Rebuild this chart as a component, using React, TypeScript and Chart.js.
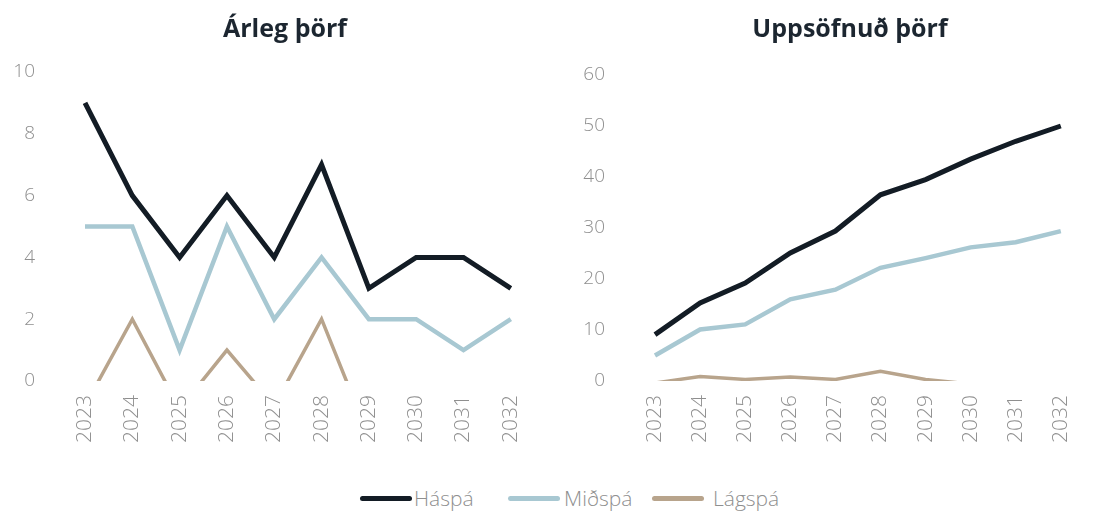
import React, { useEffect, useRef } from "react";
import { Chart, registerables } from "chart.js";

Chart.register(...registerables);

const years = ["2023", "2024", "2025", "2026", "2027", "2028", "2029", "2030", "2031", "2032"];

const annualHigh = [9, 6, 4, 6, 4, 7, 3, 4, 4, 3];
const annualMid = [5, 5, 1, 5, 2, 4, 2, 2, 1, 2];
const annualLow = [-0.8, 2, -0.9, 1, -0.8, 2, -1.8, -2, -2, -2];

const cumHigh = [9.1, 15.3, 19.2, 25.1, 29.4, 36.5, 39.5, 43.5, 47, 50];
const cumMid = [5, 10.1, 11.1, 16, 17.9, 22.2, 24.1, 26.2, 27.2, 29.4];
const cumLow = [-0.4, 0.9, 0.3, 0.8, 0.3, 1.9, 0.3, -0.6, -2, -3];

const seriesNames = ["Háspá", "Miðspá", "Lágspá"];
const seriesColors = ["#131c25", "#a8c8d2", "#b8a48c"];
const seriesWidths = [5, 4.5, 3.5];

const titles = ["Árleg þörf", "Uppsöfnuð þörf"];

const FONT = "'Open Sans', sans-serif";
const TICK_COLOR = "#8f8f8f";

type Geo = {
  left: number;
  width: number;
  height: number;
  padRight: number;
  padTop: number;
  yWidth: number;
  yPad: number;
  xHeight: number;
  titleCenter: number;
};

function makeConfig(values: number[][], yMax: number, yStep: number, g: Geo): any {
  return {
    type: "line",
    data: {
      labels: years,
      datasets: values
        .map((v, i) => ({
          label: seriesNames[i],
          data: v,
          borderColor: seriesColors[i],
          backgroundColor: seriesColors[i],
          borderWidth: seriesWidths[i],
          pointRadius: 0,
          tension: 0,
          borderCapStyle: "butt",
          borderJoinStyle: "miter",
        }))
        .reverse(),
    },
    options: {
      responsive: false,
      animation: false,
      layout: { padding: { left: 0, right: g.padRight, top: g.padTop, bottom: 0 } },
      plugins: {
        legend: { display: false },
        tooltip: { enabled: false },
        title: { display: false },
      },
      scales: {
        x: {
          offset: false,
          grid: { display: false, drawTicks: false },
          border: { display: false },
          ticks: {
            color: TICK_COLOR,
            font: { family: FONT, size: 21, weight: 300 },
            minRotation: 90,
            maxRotation: 90,
            padding: 14,
            autoSkip: false,
          },
          afterFit: (s: any) => {
            s.height = g.xHeight;
          },
        },
        y: {
          min: 0,
          max: yMax,
          grid: { display: false, drawTicks: false },
          border: { display: false },
          ticks: {
            stepSize: yStep,
            color: TICK_COLOR,
            font: { family: FONT, size: 19, weight: 300 },
            padding: g.yPad,
          },
          afterFit: (s: any) => {
            s.width = g.yWidth;
          },
        },
      },
    },
  };
}

function ChartCanvas({ config, width, height }: { config: any; width: number; height: number }) {
  const ref = useRef<HTMLCanvasElement | null>(null);
  useEffect(() => {
    if (!ref.current) return;
    const chart = new Chart(ref.current, config);
    return () => chart.destroy();
  }, [config]);
  return <canvas ref={ref} width={width} height={height} style={{ display: "block" }} />;
}

const leftGeo: Geo = {
  left: 0,
  width: 550,
  height: 460,
  padRight: 35,
  padTop: 72,
  yWidth: 85,
  yPad: 50,
  xHeight: 79,
  titleCenter: 285,
};

const rightGeo: Geo = {
  left: 550,
  width: 550,
  height: 460,
  padRight: 15,
  padTop: 75,
  yWidth: 105,
  yPad: 50,
  xHeight: 79,
  titleCenter: 850,
};

const leftConfig = makeConfig([annualHigh, annualMid, annualLow], 10, 2, leftGeo);
const rightConfig = makeConfig([cumHigh, cumMid, cumLow], 60, 10, rightGeo);

const legendLineX = [360, 508, 652];
const legendTextX = [414, 564, 713];

export default function App() {
  const geos = [leftGeo, rightGeo];
  const configs = [leftConfig, rightConfig];
  return (
    <div style={{ position: "absolute", left: 0, top: 0, width: 1100, height: 511, background: "#fff", overflow: "hidden" }}>
      {geos.map((g, i) => (
        <div key={i} style={{ position: "absolute", left: g.left, top: 0 }}>
          <ChartCanvas config={configs[i]} width={g.width} height={g.height} />
        </div>
      ))}
      {geos.map((g, i) => (
        <div
          key={"t" + i}
          style={{
            position: "absolute",
            left: g.titleCenter - 200,
            width: 400,
            top: 10,
            textAlign: "center",
            fontFamily: FONT,
            fontWeight: 700,
            fontSize: 25,
            lineHeight: "34px",
            color: "#1c2630",
          }}
        >
          {titles[i]}
        </div>
      ))}
      {seriesNames.map((n, i) => (
        <React.Fragment key={n}>
          <div
            style={{
              position: "absolute",
              left: legendLineX[i],
              top: 498 - 2.5,
              width: 52,
              height: 5,
              borderRadius: 2.5,
              background: seriesColors[i],
            }}
          />
          <div
            style={{
              position: "absolute",
              left: legendTextX[i],
              top: 484,
              lineHeight: "28px",
              fontFamily: FONT,
              fontSize: 21,
              fontWeight: 300,
              color: TICK_COLOR,
              whiteSpace: "nowrap",
            }}
          >
            {n}
          </div>
        </React.Fragment>
      ))}
    </div>
  );
}
